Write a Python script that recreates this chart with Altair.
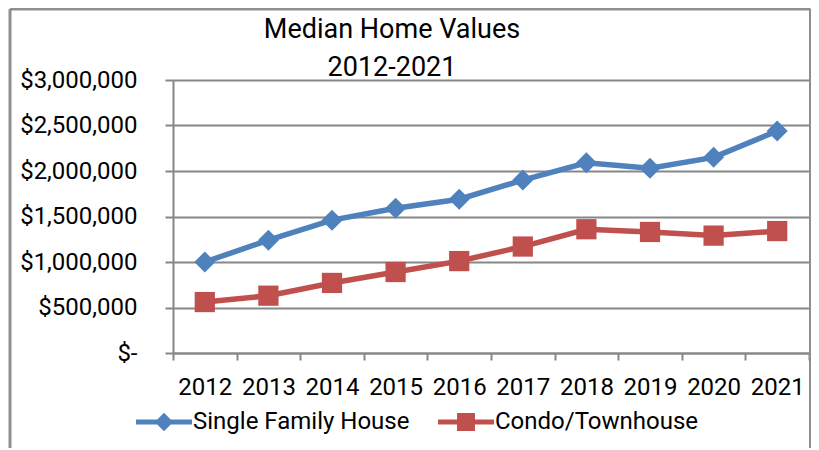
import altair as alt
import pandas as pd

years = [2012, 2013, 2014, 2015, 2016, 2017, 2018, 2019, 2020, 2021]
single_family = [1000000, 1240000, 1460000, 1590000, 1690000, 1900000, 2090000, 2030000, 2150000, 2440000]
condo = [560000, 630000, 770000, 890000, 1010000, 1170000, 1360000, 1330000, 1290000, 1340000]
series_names = ["Single Family House", "Condo/Townhouse"]
series_colors = ["#4F81BD", "#C0504D"]
y_ticks = [0, 500000, 1000000, 1500000, 2000000, 2500000, 3000000]
title_lines = ["Median Home Values", "2012-2021"]

rows = []
for yr, v in zip(years, single_family):
    rows.append({"year": yr, "value": v, "series": series_names[0]})
for yr, v in zip(years, condo):
    rows.append({"year": yr, "value": v, "series": series_names[1]})
df = pd.DataFrame(rows)

FONT = "Roboto"
GRID = "#878787"
W = 636

x_enc = alt.X("year:O", title=None,
              scale=alt.Scale(type="band", paddingInner=0, paddingOuter=0),
              axis=alt.Axis(labelAngle=0, tickBand="extent", tickSize=7, tickWidth=2,
                            tickColor=GRID, domainColor=GRID, domainWidth=2,
                            labelFontSize=24, labelFont=FONT, labelColor="black",
                            labelPadding=15, grid=False))
y_enc = alt.Y("value:Q", title=None,
              scale=alt.Scale(domain=[0, 3000000], nice=False),
              axis=alt.Axis(values=y_ticks, tickSize=8, tickWidth=2, tickColor=GRID,
                            domainColor=GRID, domainWidth=2, gridColor=GRID, gridWidth=2,
                            labelFontSize=24, labelFont=FONT, labelColor="black",
                            labelPadding=28,
                            labelExpr="datum.value == 0 ? '$-' : '$' + format(datum.value, ',')"))
color_scale = alt.Scale(domain=series_names, range=series_colors)

base = alt.Chart(df)

def series_layers(name, color, shape, size):
    sub = base.transform_filter(alt.datum.series == name)
    ln = sub.mark_line(strokeWidth=5.5, color=color).encode(x=x_enc, y=y_enc)
    pt = sub.mark_point(shape=shape, filled=True, size=size, opacity=1, color=color).encode(x=x_enc, y=y_enc)
    return [ln, pt]

layers = series_layers(series_names[0], series_colors[0], "diamond", 440) + \
         series_layers(series_names[1], series_colors[1], "square", 410)

legend_paths = [
    "M-1,-0.09H1V0.09H-1Z M0,-0.33L0.33,0L0,0.33L-0.33,0Z",
    "M-1,-0.09H1V0.09H-1Z M-0.32,-0.32H0.32V0.32H-0.32Z",
]
legend_layer = base.transform_filter("false").mark_point(filled=True, size=3136, opacity=1).encode(
    color=alt.Color("series:N", scale=color_scale,
                    legend=alt.Legend(title=None, orient="none", direction="horizontal",
                                      legendX=-37, legendY=314, padding=0,
                                      labelFont=FONT, labelFontSize=24, labelColor="black",
                                      labelOffset=1, labelLimit=400, columnPadding=28,
                                      symbolStrokeWidth=0, symbolSize=3136)),
    shape=alt.Shape("series:N", scale=alt.Scale(domain=series_names, range=legend_paths)),
)

one = alt.Data(values=[{}])
FRAME = "#8f8f8f"
frame_left = alt.Chart(one).mark_rule(color=FRAME, strokeWidth=3).encode(
    x=alt.value(-163), y=alt.value(-71), y2=alt.value(400))
frame_right = alt.Chart(one).mark_rule(color=FRAME, strokeWidth=3).encode(
    x=alt.value(W + 1.5), y=alt.value(-71), y2=alt.value(400))
frame_top = alt.Chart(one).mark_rule(color=FRAME, strokeWidth=3).encode(
    x=alt.value(-163), x2=alt.value(W + 1.5), y=alt.value(-71))
title_text = alt.Chart(one).mark_text(font=FONT, fontSize=27, color="black", align="center",
                                       baseline="alphabetic", lineHeight=38).encode(
    x=alt.value(219), y=alt.value(-42), text=alt.value(title_lines))

chart = alt.layer(*layers, legend_layer, frame_left, frame_right, frame_top, title_text).properties(
    width=W, height=273,
    autosize=alt.AutoSizeParams(type="none"),
    padding={"left": 165, "top": 72, "right": 2, "bottom": 95},
).configure_view(stroke=None).configure(background="white")

chart.save("out.html", embed_options={"renderer": "svg", "actions": False})
